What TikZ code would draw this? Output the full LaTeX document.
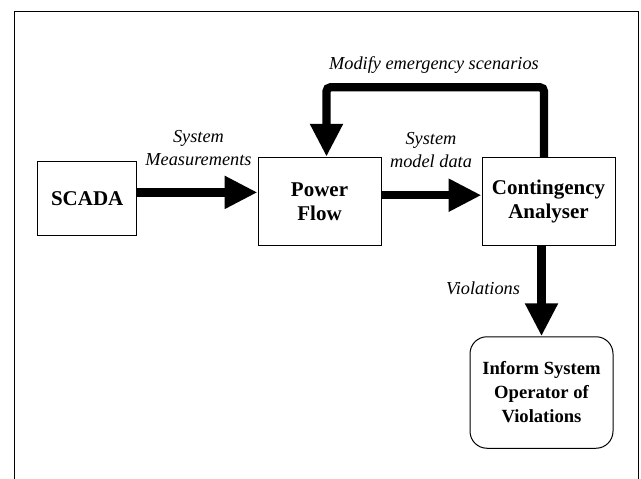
\documentclass[tikz,border=0pt]{standalone}
\usepackage{fontspec}
\setmainfont{Liberation Serif}
\usetikzlibrary{arrows.meta}

\tikzstyle{block} = [rectangle,draw,line width=1pt,align=center,inner sep=0pt,font=\fontsize{21}{24}\selectfont\bfseries]
\tikzstyle{endblock} = [block,rounded corners=17pt,font=\fontsize{18.6}{24}\selectfont\bfseries]
\tikzstyle{flow} = [line width=8.3pt,-{Triangle[length=33pt,width=31pt]}]
\tikzstyle{label} = [align=center,font=\fontsize{18.3}{23}\selectfont\itshape]

\begin{document}
\begin{tikzpicture}[x=1pt,y=-1pt]
	\useasboundingbox (0,0) rectangle (641,479);
	\draw[line width=1pt] (14,479) -- (14,11) -- (638,11) -- (638,479);
	\node[block,minimum width=99pt,minimum height=74pt] (scada) at (87.2,198.8) {SCADA};
	\node[block,minimum width=123pt,minimum height=88.5pt] (pf) at (319.5,201.5) {Power\\Flow};
	\node[block,minimum width=133pt,minimum height=88.5pt] (ca) at (548.5,201.5) {Contingency\\Analyser};
	\node[endblock,minimum width=143pt,minimum height=111.5pt] (inf) at (541.5,392.5) {Inform System\\Operator of\\Violations};
	\node[label] (meas) at (198.5,148) {System\\Measurements};
	\node[label] (model) at (431,150) {System\\model data};
	\node[label] (modify) at (434,65) {Modify emergency scenarios};
	\node[label] (viol) at (483,288) {Violations};
	\coordinate (top) at (0,87.3);
	\draw[flow] ([yshift=6.4pt]scada.east) -- ([yshift=6.4pt]scada.east -| pf.west);
	\draw[flow] ([yshift=6.3pt]pf.east) -- ([yshift=6.3pt]ca.west);
	\draw[flow,rounded corners=4pt] ([xshift=-4.5pt]ca.north) -- ([xshift=-4.5pt]ca.north |- top) -- ([xshift=7pt]pf.north |- top) -- ([xshift=7pt]pf.north);
	\draw[flow] (inf.north |- ca.south) -- (inf.north);
\end{tikzpicture}
\end{document}
